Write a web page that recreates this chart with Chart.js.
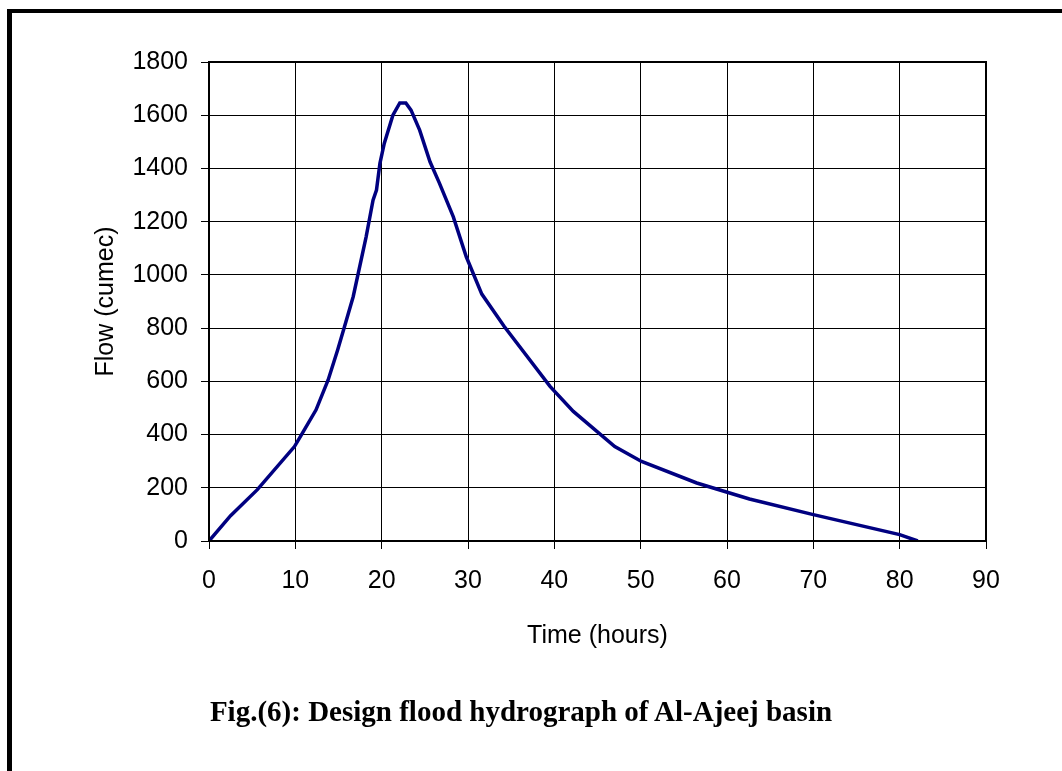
<!DOCTYPE html>
<html>
<head>
<meta charset="utf-8">
<title>Design flood hydrograph of Al-Ajeej basin</title>
<script src="https://cdn.jsdelivr.net/npm/chart.js@4.4.1/dist/chart.umd.min.js"></script>
<style>
  html, body { margin: 0; padding: 0; background: #fff; overflow: hidden; }
  #frame {
    position: absolute; left: 7px; top: 9px;
    width: 1200px; height: 900px;
    border-left: 5px solid #000; border-top: 4px solid #000;
  }
  #wrap { position: absolute; left: 0; top: 0; width: 1062px; height: 771px; }
  #caption {
    position: absolute; left: 0; top: 695px; width: 1042px;
    text-align: center; line-height: 30px;
    font: bold 29px "Liberation Serif", "Times New Roman", serif;
    color: #000;
  }
</style>
</head>
<body>
<div id="frame"></div>
<div id="wrap"><canvas id="hydroChart" width="1062" height="771"></canvas></div>
<div id="caption">Fig.(6): Design flood hydrograph of Al-Ajeej basin</div>

<script>
// Hydrograph values (time in hours, flow in cumec)
const timeHours = [0, 2.5, 5.6, 9.9, 10.7, 12.4, 13.8, 14.9, 15.7, 16.7, 18.2, 19.0, 19.4, 19.8, 20.3,
  21.3, 22.1, 22.8, 23.4, 24.4, 25.6, 26.7, 28.3, 29.8, 31.6, 34.2, 39.5, 42.2, 47.0, 50.1,
  56.5, 62.6, 70.0, 80.0, 82.1];
const flowCumec = [0, 95, 193, 355, 399, 493, 605, 718, 806, 918, 1143, 1281, 1319, 1419, 1494,
  1600, 1646, 1646, 1619, 1544, 1425, 1344, 1218, 1068, 928, 806, 581, 487, 355, 299,
  218, 158, 99, 24, 0];

// Axis ranges / tick steps
const xTicks = { min: 0, max: 90, step: 10 };
const yTicks = { min: 0, max: 1800, step: 200 };

const FONT = "'Liberation Sans', Arial, sans-serif";

// Draw the heavier outline round the plot area
const plotBorder = {
  id: "plotBorder",
  afterDraw(chart) {
    const a = chart.chartArea;
    const ctx = chart.ctx;
    ctx.save();
    ctx.strokeStyle = "#000";
    ctx.lineWidth = 2;
    ctx.strokeRect(a.left, a.top, a.right - a.left, a.bottom - a.top);
    ctx.restore();
  }
};

const ctx = document.getElementById("hydroChart").getContext("2d");
new Chart(ctx, {
  type: "scatter",
  data: {
    datasets: [{
      label: "Flow",
      data: timeHours.map((t, i) => ({ x: t, y: flowCumec[i] })),
      showLine: true,
      borderColor: "#000080",
      borderWidth: 3.5,
      pointRadius: 0,
      tension: 0,
      fill: false
    }]
  },
  options: {
    responsive: false,
    animation: false,
    layout: { padding: { left: 91, top: 62, right: 76, bottom: 120 } },
    plugins: { legend: { display: false }, tooltip: { enabled: false } },
    scales: {
      x: {
        type: "linear",
        min: xTicks.min, max: xTicks.max,
        ticks: { stepSize: xTicks.step, color: "#000", font: { family: FONT, size: 25 }, padding: 17, maxRotation: 0,
                 callback: v => String(v) },
        grid: { color: "#000", lineWidth: 1, tickLength: 8 },
        border: { color: "#000", width: 2 },
        title: { display: true, text: "Time (hours)", color: "#000", font: { family: FONT, size: 25 }, padding: 0 },
        afterFit(scale) { scale.height = 110; }
      },
      y: {
        min: yTicks.min, max: yTicks.max,
        ticks: { stepSize: yTicks.step, color: "#000", font: { family: FONT, size: 25 }, padding: 13,
                 callback: v => String(v) },
        grid: { color: "#000", lineWidth: 1, tickLength: 8 },
        border: { color: "#000", width: 2 },
        title: { display: true, text: "Flow (cumec)", color: "#000", font: { family: FONT, size: 25 }, padding: 0 },
        afterFit(scale) { scale.width = 118; }
      }
    }
  },
  plugins: [plotBorder]
});
</script>
</body>
</html>
